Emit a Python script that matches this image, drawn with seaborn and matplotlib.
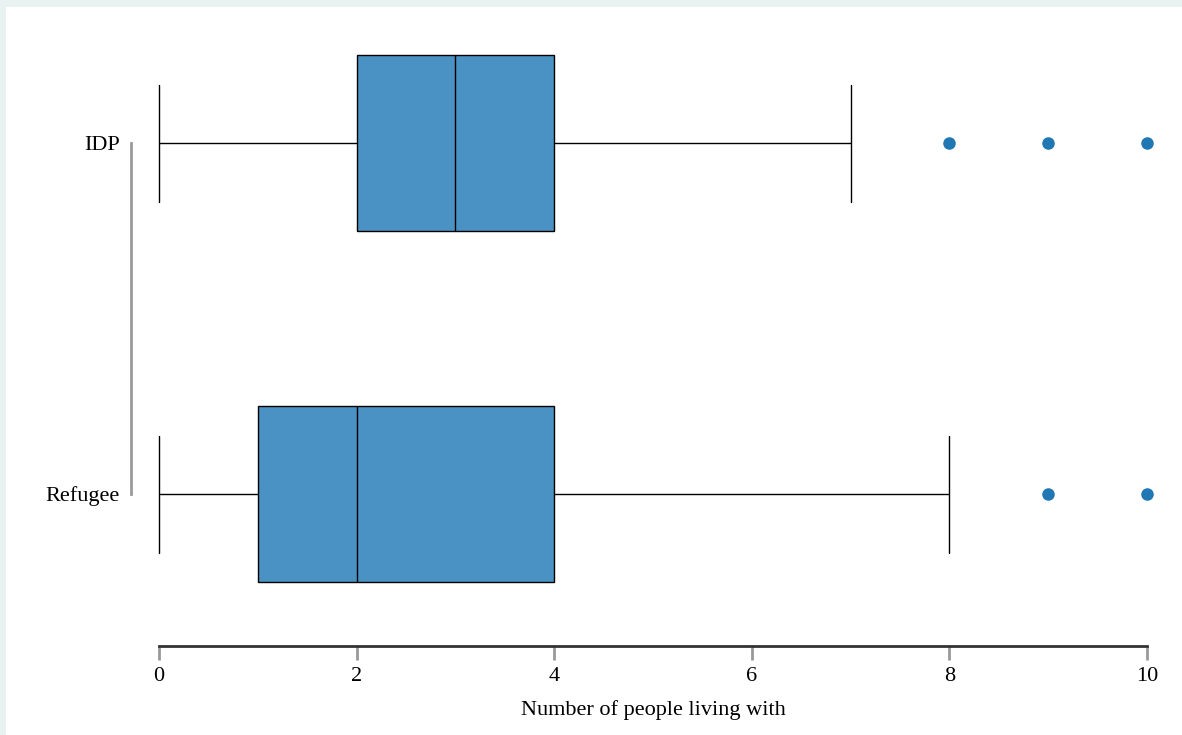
import matplotlib
matplotlib.use("Agg")
import matplotlib.pyplot as plt
import seaborn as sns
import pandas as pd
from matplotlib.patches import Rectangle

# Data (values chosen to reproduce the quartiles / whiskers / outliers)
categories = ["IDP", "Refugee"]
idp_values = [0, 1, 1, 2, 2, 2, 3, 3, 3, 3, 4, 4, 4, 7, 8, 9, 10]
refugee_values = [0, 0, 1, 1, 1, 1, 2, 2, 2, 3, 3, 4, 4, 5, 8, 9, 10]
x_ticks = [0, 2, 4, 6, 8, 10]
x_label = "Number of people living with"

df = pd.DataFrame({
    "group": ["IDP"] * len(idp_values) + ["Refugee"] * len(refugee_values),
    "value": idp_values + refugee_values,
})

sns.set_theme(style="white")
plt.rcParams["font.family"] = ["Liberation Serif", "DejaVu Serif"]
plt.rcParams["text.color"] = "black"
plt.rcParams["axes.labelcolor"] = "black"
plt.rcParams["xtick.color"] = "black"
plt.rcParams["ytick.color"] = "black"

fig = plt.figure(figsize=(11.82, 7.35), dpi=100)
fig.patch.set_facecolor("#e8f2f0")
fig.patches.append(Rectangle((6 / 1182, 0), 1, 1 - 7 / 735, transform=fig.transFigure,
                             facecolor="white", edgecolor="none", zorder=-10))

ax = fig.add_axes([159 / 1182, 1 - 646 / 735, (1147 - 159) / 1182, (646 - 30) / 735])
ax.set_facecolor("none")
ax.set_zorder(5)

sns.boxplot(
    data=df, x="value", y="group", order=categories, orient="h", ax=ax,
    color="#4a92c3", saturation=1, width=0.5, whis=1.5,
    linecolor="black", linewidth=1.0,
    flierprops=dict(marker="o", markerfacecolor="#1f77b4", markeredgecolor="#1f77b4",
                    markersize=8))

# widen whisker caps to Stata-like proportion (2/3 of box width)
for line in ax.lines:
    yd = line.get_ydata()
    xd = line.get_xdata()
    if len(xd) == 2 and xd[0] == xd[1] and len(yd) == 2 and yd[0] != yd[1]:
        c = (yd[0] + yd[1]) / 2
        if abs(abs(yd[1] - yd[0]) - 0.5) > 1e-6:
            line.set_ydata([c - 0.1667, c + 0.1667])
    line.set_clip_on(False)

ax.set_xlim(0, 10)
ax.set_ylim(1.433, -0.322)
ax.set_xticks(x_ticks)
ax.set_xticklabels([str(t) for t in x_ticks])
ax.set_xlabel(x_label, fontsize=16, labelpad=10, color="black")
ax.set_ylabel("")

for s in ["top", "right"]:
    ax.spines[s].set_visible(False)
ax.spines["bottom"].set_color("#333333")
ax.spines["bottom"].set_linewidth(2)
ax.spines["left"].set_color("#999999")
ax.spines["left"].set_linewidth(2)
ax.spines["left"].set_position(("outward", 20))
ax.spines["left"].set_bounds(0, 1)

ax.tick_params(axis="x", which="both", bottom=True, length=10, width=2, color="#999999",
               labelsize=16, pad=5, labelcolor="black")
ax.tick_params(axis="y", left=False, length=0, labelsize=16, pad=8, labelcolor="black")

fig.savefig("out.png", dpi=100, facecolor=fig.get_facecolor())
